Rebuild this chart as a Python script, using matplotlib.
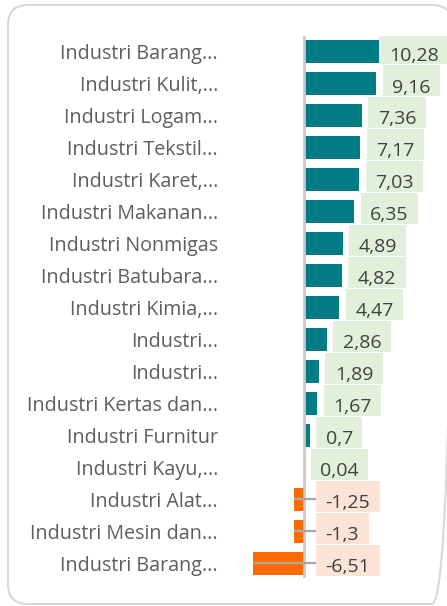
import matplotlib
matplotlib.use("Agg")
import matplotlib.pyplot as plt
from matplotlib.patches import FancyBboxPatch, Rectangle
from matplotlib.transforms import IdentityTransform

categories = [
    "Industri Barang...", "Industri Kulit,...", "Industri Logam...", "Industri Tekstil...",
    "Industri Karet,...", "Industri Makanan...", "Industri Nonmigas", "Industri Batubara...",
    "Industri Kimia,...", "Industri...", "Industri...", "Industri Kertas dan...",
    "Industri Furnitur", "Industri Kayu,...", "Industri Alat...", "Industri Mesin dan...",
    "Industri Barang...",
]
values = [10.28, 9.16, 7.36, 7.17, 7.03, 6.35, 4.89, 4.82, 4.47, 2.86, 1.89, 1.67,
          0.7, 0.04, -1.25, -1.3, -6.51]

POS_COLOR = "#007C85"
NEG_COLOR = "#FF6A00"
POS_BOX = "#E2EFDA"
NEG_BOX = "#FBE4D6"
FONT = "Open Sans"
CAT_FS = 14.2
VAL_FS = 14.0
PT = 0.72  # points per pixel at dpi 100

plt.rcParams["savefig.bbox"] = None

W, H = 447, 606
fig = plt.figure(figsize=(W / 100, H / 100), dpi=100)

# background axes in pixel units for the rounded border (clipped to the figure)
bg = fig.add_axes([0, 0, 1, 1], zorder=-5)
bg.set_xlim(0, W)
bg.set_ylim(H, 0)
bg.axis("off")
border = FancyBboxPatch((8, 5), 452 - 8, 604 - 5,
                        boxstyle="round,pad=0,rounding_size=20",
                        facecolor="none", edgecolor="#D8D8D8", linewidth=1.5, clip_on=True)
bg.add_patch(border)

# main axes
ax_left, ax_right = 240, 447
ax_top, ax_bot = 36, 579
ax = fig.add_axes([ax_left / W, (H - ax_bot) / H, (ax_right - ax_left) / W, (ax_bot - ax_top) / H])
ax.set_facecolor("none")
zero_px = 304
scale = 7.88
ax.set_xlim((ax_left - zero_px) / scale, (ax_right - zero_px) / scale)
n = len(values)
ax.set_ylim(n - 0.5, -0.5)
for s in ax.spines.values():
    s.set_visible(False)
ax.set_xticks([])

ypos = list(range(n))
colors = [POS_COLOR if v >= 0 else NEG_COLOR for v in values]
ax.barh(ypos, values, height=0.72, color=colors, zorder=2)
ax.axvline(0, ymin=0.005, ymax=1.0, color="#C8C8C8", linewidth=2, zorder=3)

ax.set_yticks(ypos)
ax.set_yticklabels(categories, fontsize=CAT_FS, color="#605E5C", fontfamily=FONT)
ax.tick_params(axis="y", length=0, pad=(ax_left - 218) * PT)

texts = []
for i, v in enumerate(values):
    lab = f"{v:g}".replace(".", ",")
    if v >= 0:
        t = ax.annotate(lab, xy=(v, i), xytext=(16 * PT, -8.6 * PT), textcoords="offset points",
                        ha="left", va="baseline", fontsize=VAL_FS, color="#404040",
                        fontfamily=FONT, zorder=5)
    else:
        t = ax.annotate(lab, xy=(0, i), xytext=(21.5 * PT, -8.6 * PT), textcoords="offset points",
                        ha="left", va="baseline", fontsize=VAL_FS, color="#404040",
                        fontfamily=FONT, zorder=5)
    texts.append(t)

# label boxes sized from the rendered text
fig.canvas.draw()
r = fig.canvas.get_renderer()
PADX, BOXH, BOXUP = 9.5, 31, 3
inv = ax.transData.inverted()
for i, (t, v) in enumerate(zip(texts, values)):
    bb = t.get_window_extent(r)
    x0, x1 = bb.x0 - PADX, bb.x1 + PADX
    if x1 > W + 1:
        shift = x1 - (W + 1)
        t.xyann = (t.xyann[0] - shift * PT, t.xyann[1])
        x0 -= shift
        x1 -= shift
    cy = ax.transData.transform((0, i))[1] + BOXUP
    rect = Rectangle((x0, cy - BOXH / 2), x1 - x0, BOXH, transform=IdentityTransform(),
                     facecolor=POS_BOX if v >= 0 else NEG_BOX, edgecolor="none", zorder=4)
    ax.add_patch(rect)
    if v < 0:
        xbox = inv.transform((x0, 0))[0]
        ax.plot([v, xbox], [i, i], color="#A8A8A8", linewidth=1.6, zorder=3,
                solid_capstyle="butt")

fig.savefig("out.png", dpi=100, bbox_inches=None)
